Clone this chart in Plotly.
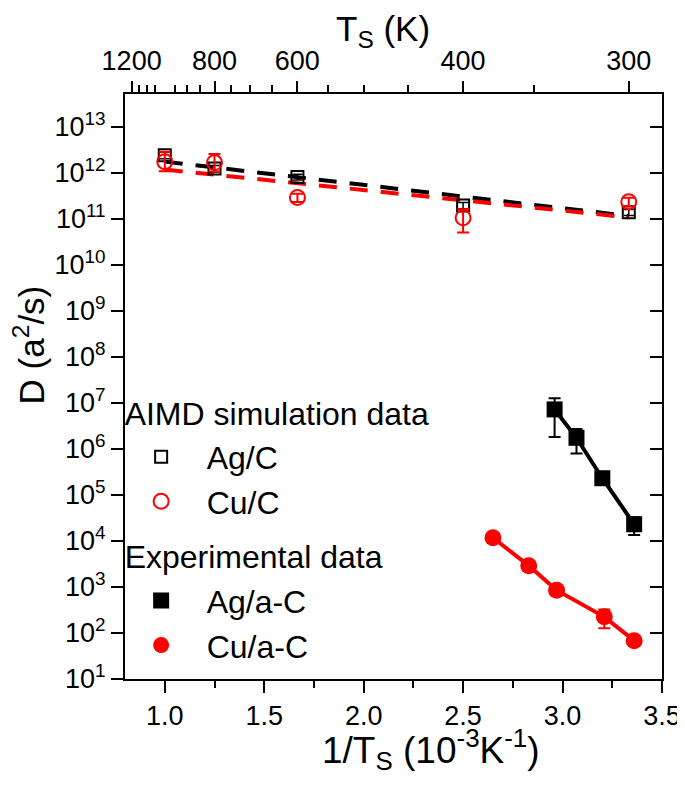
import plotly.graph_objects as go

# AIMD simulation data (1/T in 10^-3 K^-1, D in a^2/s)
aimd_x = [1.0, 1.25, 1.667, 2.5, 3.333]
ag_c = [2.4e12, 1.23e12, 8.1e11, 1.95e11, 1.38e11]
ag_c_err = [4e11, 2e11, 1.2e11, 3e10, 2e10]
cu_c = [1.74e12, 1.66e12, 2.9e11, 1.05e11, 2.35e11]
cu_c_err_plus = [1.1e12, 0.9e12, 0.6e11, 0.55e11, 0.5e11]
cu_c_err_minus = [0.67e12, 0.6e12, 0.6e11, 0.55e11, 0.5e11]

# Arrhenius fits for the simulation data (end points)
fit_x = [1.0, 3.333]
fit_ag_c = [1.74e12, 1.15e11]
fit_cu_c = [1.17e12, 1.07e11]

# Experimental data
ag_ac_x = [2.96, 3.07, 3.20, 3.36]
ag_ac = [7.2e6, 1.74e6, 2.3e5, 2.3e4]
ag_ac_err = [5.4e6, 0.95e6, 0, 0.95e4]
cu_ac_x = [2.65, 2.83, 2.97, 3.21, 3.36]
cu_ac = [1.17e4, 2.9e3, 850, 224, 68]
cu_ac_err = [0, 0, 0, 98, 0]

# top axis: substrate temperature
t_major = [1200, 800, 600, 400, 300]
t_minor = [1150, 1100, 1050, 950, 900, 850, 750, 700, 650, 550, 500, 450, 350]

y_exp = list(range(1, 14))

FONT = "Liberation Sans, Arial, sans-serif"
RED = "#ff0000"

fig = go.Figure()

# dashed fits
fig.add_trace(go.Scatter(x=fit_x, y=fit_ag_c, mode="lines", showlegend=False,
                         line=dict(color="black", width=4, dash="18px,13px")))
fig.add_trace(go.Scatter(x=fit_x, y=fit_cu_c, mode="lines", showlegend=False,
                         line=dict(color=RED, width=4, dash="18px,13px")))

# experimental lines
fig.add_trace(go.Scatter(x=ag_ac_x, y=ag_ac, mode="lines", showlegend=False,
                         line=dict(color="black", width=4)))
fig.add_trace(go.Scatter(x=cu_ac_x, y=cu_ac, mode="lines", showlegend=False,
                         line=dict(color=RED, width=4)))

fig.add_trace(go.Scatter(
    x=aimd_x, y=ag_c, mode="markers", name="Ag/C",
    legendgroup="aimd", legendgrouptitle_text="AIMD simulation data",
    marker=dict(symbol="square-open", size=12, color="black", line=dict(width=2)),
    error_y=dict(type="data", array=ag_c_err, color="black", thickness=1.5, width=5),
))
fig.add_trace(go.Scatter(
    x=aimd_x, y=cu_c, mode="markers", name="Cu/C",
    legendgroup="aimd",
    marker=dict(symbol="circle-open", size=15, color=RED, line=dict(width=2)),
    error_y=dict(type="data", array=cu_c_err_plus, arrayminus=cu_c_err_minus,
                 color=RED, thickness=2, width=6),
))
fig.add_trace(go.Scatter(
    x=ag_ac_x, y=ag_ac, mode="markers", name="Ag/a-C",
    legendgroup="exp", legendgrouptitle_text="Experimental data",
    marker=dict(symbol="square", size=16, color="black"),
    error_y=dict(type="data", array=ag_ac_err, color="black", thickness=2, width=6),
))
fig.add_trace(go.Scatter(
    x=cu_ac_x, y=cu_ac, mode="markers", name="Cu/a-C",
    legendgroup="exp",
    marker=dict(symbol="circle", size=17, color=RED),
    error_y=dict(type="data", array=cu_ac_err, color=RED, thickness=2, width=6),
))

# invisible trace so the mirror axes get drawn
fig.add_trace(go.Scatter(x=[None], y=[None], xaxis="x2", yaxis="y2",
                         showlegend=False, hoverinfo="skip"))

tick_font = dict(family=FONT, size=27, color="black")
x_range = [0.8, 3.5]
y_range = [1, 13.71]

# the page body has an 8px margin, so the figure is made 8px smaller
fig.update_layout(
    width=677, height=780,
    paper_bgcolor="white", plot_bgcolor="white",
    font=dict(family=FONT, color="black"),
    margin=dict(l=117, r=23, t=86, b=109, autoexpand=False),
    xaxis=dict(
        range=x_range, tickmode="linear", tick0=1.0, dtick=0.5, tickformat=".1f",
        ticks="outside", ticklen=12, tickwidth=2, tickcolor="black",
        minor=dict(dtick=0.25, tick0=1.0, ticks="outside", ticklen=7, tickwidth=2, tickcolor="black"),
        showline=True, linewidth=2, linecolor="black", showgrid=False, zeroline=False,
        tickfont=tick_font, automargin=False,
    ),
    xaxis2=dict(
        range=x_range, overlaying="x", side="top",
        tickmode="array", tickvals=[1000 / t for t in t_major], ticktext=[str(t) for t in t_major],
        ticks="outside", ticklen=11, tickwidth=2, tickcolor="black",
        minor=dict(tickmode="array", tickvals=[1000 / t for t in t_minor],
                   ticks="outside", ticklen=7, tickwidth=2, tickcolor="black"),
        showline=True, linewidth=2, linecolor="black", showgrid=False, zeroline=False,
        tickfont=tick_font, automargin=False,
    ),
    yaxis=dict(
        type="log", range=y_range,
        tickmode="array", tickvals=[10 ** e for e in y_exp],
        ticktext=[f"10<sup>{e}</sup>" for e in y_exp],
        ticks="outside", ticklen=12, tickwidth=2, tickcolor="black",
        showline=True, linewidth=2, linecolor="black", showgrid=False, zeroline=False,
        tickfont=tick_font, automargin=False,
    ),
    yaxis2=dict(
        type="log", range=y_range, overlaying="y", side="right",
        tickmode="array", tickvals=[10 ** e for e in y_exp], showticklabels=False,
        ticks="inside", ticklen=12, tickwidth=2, tickcolor="black",
        showline=True, linewidth=2, linecolor="black", showgrid=False, zeroline=False,
        automargin=False,
    ),
    legend=dict(
        x=-0.01, y=0.503, xanchor="left", yanchor="top",
        bgcolor="rgba(0,0,0,0)", borderwidth=0,
        font=dict(family=FONT, size=32, color="black"),
        grouptitlefont=dict(family=FONT, size=32, color="black"),
        traceorder="grouped", tracegroupgap=10,
        indentation=-4, itemwidth=81,
    ),
    annotations=[
        dict(text="D (a<sup>2</sup>/s)", xref="paper", yref="paper", x=-0.178, y=0.571,
             textangle=-90, showarrow=False, xanchor="center", yanchor="middle",
             font=dict(family=FONT, size=35)),
        dict(text="1/T<sub>S</sub> (10<sup>-3</sup>K<sup>-1</sup>)", xref="paper", yref="paper",
             x=0.57, y=-0.12, showarrow=False, xanchor="center", yanchor="middle",
             font=dict(family=FONT, size=37)),
        dict(text="T<sub>S</sub> (K)", xref="paper", yref="paper", x=0.48, y=1.107,
             showarrow=False, xanchor="center", yanchor="middle",
             font=dict(family=FONT, size=35)),
    ],
)

fig.write_html("out.html")
